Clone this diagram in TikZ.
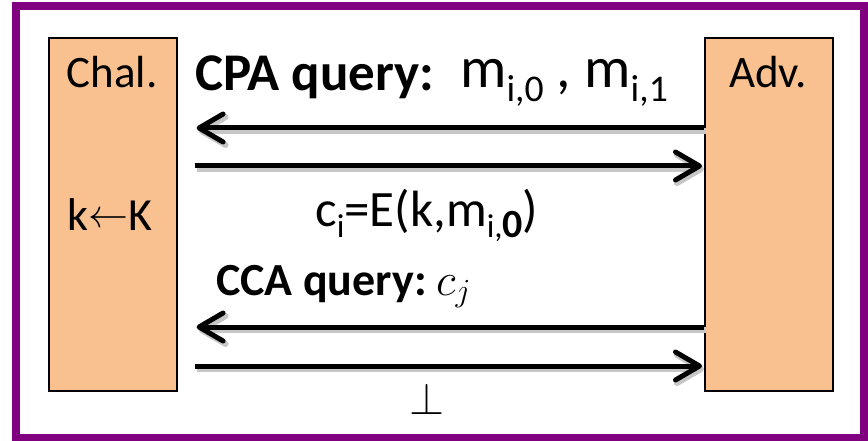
\documentclass[tikz,border=0pt]{standalone}
\usepackage{fix-cm}
\usepackage{fontspec}
\setmainfont{Carlito}
\usetikzlibrary{arrows.meta}
\definecolor{framepurple}{RGB}{128,0,128}
\definecolor{peach}{RGB}{249,193,144}
\makeatletter
\newcommand\subsc[1]{\raisebox{-0.23em}{\fontsize{\dimexpr 0.65\dimexpr\f@size pt\relax\relax}{10}\selectfont #1}}
\makeatother
\begin{document}
\begin{tikzpicture}[x=1pt,y=-1pt,
  party/.style={draw=black, line width=1.6pt, fill=peach, inner sep=0pt},
  lbl/.style={inner sep=0pt, font=\fontsize{45}{54}\selectfont},
  msgtxt/.style={inner sep=0pt, font=\fontsize{#1}{54}\selectfont},
  blbl/.style={inner sep=0pt, font=\fontsize{#1}{54}\selectfont\bfseries},
  msg/.style={line width=5pt, -{Straight Barb[length=24pt,width=28pt,round]},
    preaction={draw=black!22, line width=6pt, transform canvas={shift={(2pt,-3pt)}}}}
]
\useasboundingbox (0,0) rectangle (868,441);
\draw[framepurple, line width=8pt] (16,6.5) rectangle (864,437.5);

\node[party, minimum width=128pt, minimum height=353pt, anchor=north west] (chal) at (48,37) {};
\node[party, minimum width=128pt, minimum height=353pt, anchor=north west] (adv) at (704,37) {};

\node[lbl, anchor=base] (chaltxt) at (112,88) {Chal.};
\node[lbl, anchor=base] (advtxt) at (768,88) {Adv.};
\node[msgtxt=46, anchor=base] (keytxt) at (110,230) {k\raisebox{3pt}{\fontsize{40}{40}\selectfont$\leftarrow$}K};

\coordinate (r1) at (0,128);
\coordinate (r2) at (0,166);
\coordinate (r3) at (0,327);
\coordinate (r4) at (0,366);

\draw[msg, shorten >=19pt] (adv.west |- r1) -- (chal.east |- r1);
\draw[msg, shorten <=17pt, shorten >=2pt] (chal.east |- r2) -- (adv.west |- r2);
\draw[msg, shorten >=19pt] (adv.west |- r3) -- (chal.east |- r3);
\draw[msg, shorten <=17pt, shorten >=2pt] (chal.east |- r4) -- (adv.west |- r4);

\node[blbl=53, anchor=base west] (cpa) at (195,91) {CPA query:};
\node[msgtxt=58, anchor=base west] (cpamsg) at (460,88) {m\subsc{i,0} , m\subsc{i,1}};
\node[msgtxt=51, anchor=base west] (ctxt) at (315,226) {c\subsc{i}=E(k,m\subsc{i,\textbf{\fontsize{40}{40}\selectfont 0}})};
\node[blbl=46, anchor=base west] (cca) at (216,295) {CCA query:};
\node[msgtxt=46, anchor=base west] (cj) at (436,295) {$c_j$};
\node[lbl, anchor=base] (bot) at (427,414) {$\perp$};
\end{tikzpicture}
\end{document}
